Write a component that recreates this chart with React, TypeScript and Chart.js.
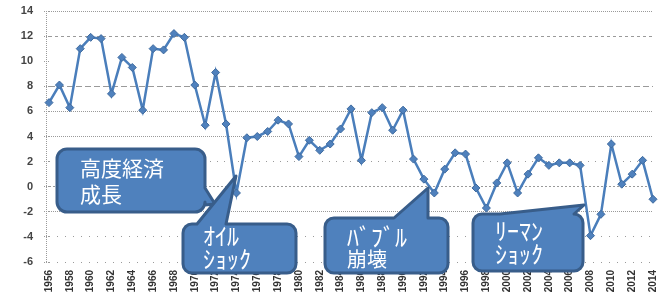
import React, { useEffect, useRef } from 'react';
import { Chart, registerables } from 'chart.js';

Chart.register(...registerables);

const years = [
  '1956', '1957', '1958', '1959', '1960', '1961', '1962', '1963', '1964', '1965',
  '1966', '1967', '1968', '1969', '1970', '1971', '1972', '1973', '1974', '1975',
  '1976', '1977', '1978', '1979', '1980', '1981', '1982', '1983', '1984', '1985',
  '1986', '1987', '1988', '1989', '1990', '1991', '1992', '1993', '1994', '1995',
  '1996', '1997', '1998', '1999', '2000', '2001', '2002', '2003', '2004', '2005',
  '2006', '2007', '2008', '2009', '2010', '2011', '2012', '2013', '2014',
];

const growth = [
  6.7, 8.1, 6.3, 11.0, 11.9, 11.8, 7.4, 10.3, 9.5, 6.1,
  11.0, 10.9, 12.2, 11.9, 8.1, 4.9, 9.1, 5.0, -0.5, 3.9,
  4.0, 4.4, 5.3, 5.0, 2.4, 3.7, 2.9, 3.4, 4.6, 6.2,
  2.1, 5.9, 6.3, 4.5, 6.1, 2.2, 0.6, -0.5, 1.4, 2.7,
  2.6, -0.1, -1.7, 0.3, 1.9, -0.5, 1.0, 2.3, 1.7, 1.9,
  1.9, 1.7, -3.9, -2.2, 3.4, 0.2, 1.0, 2.1, -1.0,
];

const yMin = -6;
const yMax = 14;
const yStep = 2;

const calloutLines = [
  ['高度経済', '成長'],
  ['ｵｲﾙ', 'ｼｮｯｸ'],
  ['ﾊﾞﾌﾞﾙ', '崩壊'],
  ['ﾘｰﾏﾝ', 'ｼｮｯｸ'],
];

type Tail = { side: 'top' | 'right'; a: number; b: number; tx: number; ty: number };
type Callout = {
  x: number; y: number; w: number; h: number; r: number; tail?: Tail;
  sizes: number[]; tx: number; ty: number[];
};

const calloutLayout: Callout[] = [
  { x: 57, y: 149, w: 148, h: 63, r: 10, tail: { side: 'right', a: 188, b: 205, tx: 215, ty: 204 }, sizes: [21, 21], tx: 80, ty: [168, 194] },
  { x: 183, y: 224, w: 113, h: 49, r: 9, tail: { side: 'top', a: 197, b: 226, tx: 236, ty: 176 }, sizes: [24, 24], tx: 203, ty: [236, 259] },
  { x: 325, y: 218, w: 123, h: 55, r: 9, tail: { side: 'top', a: 394, b: 428, tx: 428, ty: 188 }, sizes: [24, 20], tx: 347, ty: [237, 259] },
  { x: 473, y: 214, w: 110, h: 57, r: 9, tail: { side: 'top', a: 500, b: 574, tx: 584, ty: 205 }, sizes: [24, 24], tx: 495, ty: [231, 254] },
];

function calloutPath(ctx: CanvasRenderingContext2D, c: Callout) {
  const { x, y, w, h, r, tail } = c;
  ctx.beginPath();
  ctx.moveTo(x + r, y);
  if (tail && tail.side === 'top') {
    ctx.lineTo(tail.a, y);
    ctx.lineTo(tail.tx, tail.ty);
    ctx.lineTo(tail.b, y);
  }
  ctx.lineTo(x + w - r, y);
  ctx.arcTo(x + w, y, x + w, y + r, r);
  if (tail && tail.side === 'right') {
    ctx.lineTo(x + w, tail.a);
    ctx.lineTo(tail.tx, tail.ty);
    ctx.lineTo(x + w, tail.b);
  }
  ctx.lineTo(x + w, y + h - r);
  ctx.arcTo(x + w, y + h, x + w - r, y + h, r);
  ctx.lineTo(x + r, y + h);
  ctx.arcTo(x, y + h, x, y + h - r, r);
  ctx.lineTo(x, y + r);
  ctx.arcTo(x, y, x + r, y, r);
  ctx.closePath();
}

const gridDashFor = (v: number): number[] => {
  switch (v) {
    case 14: return [1, 1];
    case 12: return [3, 3];
    case 8: return [6, 3];
    case 6: return [1, 1];
    case 4: return [1, 1];
    case 2: return [1, 6];
    case 0: return [2, 2];
    case -2: return [1, 1];
    default: return [1, 7];
  }
};

const axisLinePlugin = {
  id: 'axisLine',
  beforeDatasetsDraw(chart: any) {
    const { ctx, chartArea } = chart;
    ctx.save();
    ctx.strokeStyle = '#9a9a9a';
    ctx.lineWidth = 1;
    ctx.setLineDash([1, 1]);
    ctx.beginPath();
    ctx.moveTo(chartArea.left - 2.5, chartArea.top);
    ctx.lineTo(chartArea.left - 2.5, chartArea.bottom);
    ctx.stroke();
    ctx.restore();
  },
};

const calloutPlugin = {
  id: 'callouts',
  afterDraw(chart: any) {
    const { ctx } = chart;
    ctx.save();
    calloutLayout.forEach((c, i) => {
      calloutPath(ctx, c);
      ctx.fillStyle = '#4F81BD';
      ctx.fill();
      ctx.lineWidth = 3;
      ctx.lineJoin = 'round';
      ctx.strokeStyle = '#385D8A';
      ctx.stroke();
      ctx.fillStyle = '#ffffff';
      ctx.textAlign = 'left';
      ctx.textBaseline = 'middle';
      calloutLines[i].forEach((t, j) => {
        ctx.font = `${c.sizes[j]}px "Noto Sans CJK JP", sans-serif`;
        ctx.fillText(t, c.tx, c.ty[j]);
      });
    });
    ctx.restore();
  },
};

export default function App() {
  const ref = useRef<HTMLCanvasElement>(null);

  useEffect(() => {
    if (!ref.current) return;
    const chart = new Chart(ref.current, {
      type: 'line',
      data: {
        labels: years,
        datasets: [
          {
            data: growth,
            borderColor: '#4A7EBB',
            borderWidth: 2.5,
            pointStyle: 'rectRot',
            pointRadius: 4,
            pointBackgroundColor: '#4F81BD',
            pointBorderColor: '#3E6A9E',
            pointBorderWidth: 1,
            tension: 0,
          },
        ],
      },
      options: {
        responsive: false,
        animation: false,
        devicePixelRatio: 1,
        layout: { padding: { top: 11, right: 7, left: 0, bottom: 0 } },
        plugins: { legend: { display: false }, tooltip: { enabled: false } },
        scales: {
          x: {
            offset: false,
            grid: { display: false, drawTicks: false },
            border: { display: false },
            ticks: {
              autoSkip: false,
              minRotation: 90,
              maxRotation: 90,
              padding: 8,
              color: '#333',
              font: { family: 'Liberation Sans', size: 10, weight: 'bold' },
              callback: (_v: any, i: number) => (i % 2 === 0 ? years[i] : ''),
            },
            afterFit: (s: any) => { s.height = 43; s.paddingLeft = 0; s.paddingRight = 0; },
          },
          y: {
            min: yMin,
            max: yMax,
            ticks: {
              stepSize: yStep,
              padding: 11,
              color: '#444',
              font: { family: 'Liberation Sans', size: 11, weight: 'bold' },
            },
            grid: {
              color: (ctx: any) => (ctx.tick && ctx.tick.value === 10 ? 'rgba(0,0,0,0)' : '#9a9a9a'),
              lineWidth: 1,
              tickLength: 5,
              tickColor: '#9a9a9a',
              tickBorderDash: [1, 1],
            },
            border: {
              display: false,
              dash: (ctx: any) => (ctx.tick ? gridDashFor(ctx.tick.value) : [1, 1]),
            },
            afterFit: (s: any) => { s.width = 49; s.paddingTop = 0; s.paddingBottom = 0; },
          },
        },
      },
      plugins: [axisLinePlugin, calloutPlugin],
    } as any);
    return () => chart.destroy();
  }, []);

  return (
    <div style={{ position: 'absolute', left: 0, top: 0, width: 660, height: 305, background: '#fff' }}>
      <canvas ref={ref} width={660} height={305} style={{ width: 660, height: 305 }} />
    </div>
  );
}
